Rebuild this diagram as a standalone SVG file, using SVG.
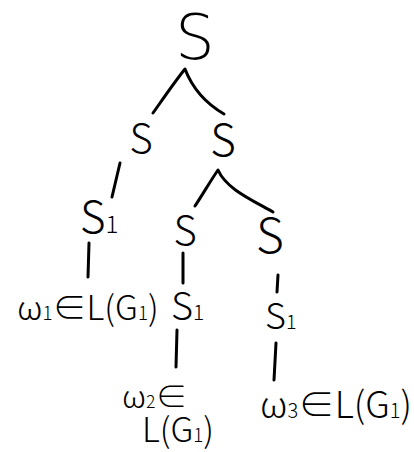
<svg xmlns="http://www.w3.org/2000/svg" width="414" height="452" viewBox="0 0 414 452">
  <style>
    .lbl { font-family: "Noto Sans CJK SC", "DejaVu Sans", sans-serif; font-weight: 300; fill: #000; }
    .top { font-family: "DejaVu Sans", "Noto Sans CJK SC", sans-serif; font-weight: 200; fill: #000; }
    .sub { font-size: 55%; }
    .edge { fill: none; stroke: #000; stroke-width: 3; stroke-linecap: round; stroke-linejoin: round; }
  </style>
  <rect width="414" height="452" fill="#fff"/>

  <!-- tree edges -->
  <g id="connectors">
    <path class="edge" d="M153,113 C165,96 176,80 185,69 C190,82 200,100 224,114"/>
    <path class="edge" d="M120,163 L112,197"/>
    <path class="edge" d="M195,206 C203,194 211,180 218,170 C226,188 248,198 273,212"/>
    <path class="edge" d="M183,253 L183,283"/>
    <path class="edge" d="M278,275 L277,292"/>
    <path class="edge" d="M89,243 L88,277"/>
    <path class="edge" d="M177,330 L176,367"/>
    <path class="edge" d="M276,343 L274,380"/>
  </g>

  <!-- tree nodes -->
  <g id="root"><text class="top" x="195" y="59" font-size="62" text-anchor="middle">S</text></g>
  <g id="s-left"><text class="lbl" x="141" y="153" font-size="40" text-anchor="middle">S</text></g>
  <g id="s-right"><text class="lbl" x="223" y="156" font-size="44" text-anchor="middle">S</text></g>
  <g id="s1-left"><text class="lbl" x="80" y="233" font-size="44">S<tspan class="sub">1</tspan></text></g>
  <g id="s-mid"><text class="lbl" x="185" y="245" font-size="40" text-anchor="middle">S</text></g>
  <g id="s-far"><text class="lbl" x="270" y="253" font-size="48" text-anchor="middle">S</text></g>
  <g id="w1"><text class="lbl" x="17" y="320" font-size="34">ω<tspan class="sub">1</tspan>∈L(G<tspan class="sub">1</tspan>)</text></g>
  <g id="s1-mid"><text class="lbl" x="171" y="320" font-size="38">S<tspan class="sub">1</tspan></text></g>
  <g id="s1-far"><text class="lbl" x="265" y="329" font-size="36">S<tspan class="sub">1</tspan></text></g>
  <g id="w2">
    <text class="lbl" x="122" y="408" font-size="32">ω<tspan class="sub">2</tspan>∈</text>
    <text class="lbl" x="142" y="442" font-size="34">L(G<tspan class="sub">1</tspan>)</text>
  </g>
  <g id="w3"><text class="lbl" x="260" y="418" font-size="36.5">ω<tspan class="sub">3</tspan>∈L(G<tspan class="sub">1</tspan>)</text></g>
</svg>
